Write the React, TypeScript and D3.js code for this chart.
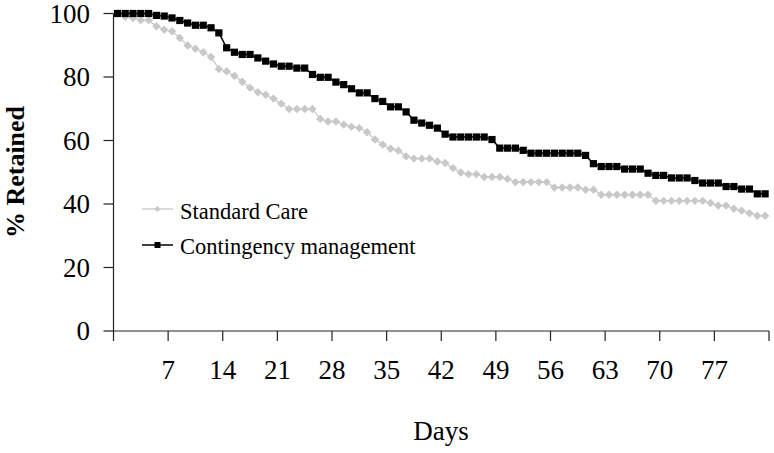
import React from 'react';
import * as d3 from 'd3';

// Day index 1..84 (one point per day)
const standardCare = [
  100, 99, 98.6, 97.9, 97.9, 96, 94.9,
  94.4, 92.3, 89.9, 88.9, 87.8, 86.3, 82.5,
  81.8, 80.4, 78.5, 76.6, 75.2, 74.4, 73.2,
  71.6, 69.9, 69.9, 69.9, 69.9, 66.8, 66.0,
  66.0, 65.0, 64.3, 63.9, 62.6, 60.3, 58.7,
  57.4, 56.8, 55.0, 54.3, 54.3, 54.3, 53.4,
  52.9, 51.3, 49.9, 49.4, 49.4, 48.5, 48.5,
  48.5, 47.9, 46.9, 46.9, 46.9, 46.9, 46.9,
  45.2, 45.2, 45.2, 45.2, 44.5, 44.5, 42.9,
  42.9, 42.9, 42.9, 42.9, 42.9, 42.9, 41.0,
  41.0, 41.0, 41.0, 41.0, 41.0, 41.0, 40.3,
  39.5, 39.5, 38.5, 37.9, 37.1, 36.3, 36.3,
];

const contingency = [
  100, 100, 100, 100, 100, 99.4, 99.2,
  98.6, 97.8, 97.0, 96.3, 96.3, 95.5, 93.9,
  89.2, 87.8, 87.1, 87.1, 86.0, 85.0, 84.1,
  83.4, 83.4, 82.8, 82.8, 80.8, 79.9, 79.9,
  78.4, 77.6, 76.3, 75.0, 75.0, 73.2, 72.3,
  70.6, 70.6, 69.0, 66.4, 65.5, 64.8, 63.9,
  62.0, 61.1, 61.1, 61.1, 61.1, 61.1, 60.3,
  57.6, 57.6, 57.6, 56.9, 56.0, 56.0, 56.0,
  56.0, 56.0, 56.0, 56.0, 55.3, 52.7, 51.8,
  51.8, 51.8, 51.0, 51.0, 51.0, 49.7, 49.0,
  49.0, 48.2, 48.2, 48.2, 47.4, 46.6, 46.6,
  46.6, 45.5, 45.5, 44.7, 44.7, 43.2, 43.2,
];

const xTickValues = [0, 7, 14, 21, 28, 35, 42, 49, 56, 63, 70, 77, 84];
const xTickLabels = ['', '7', '14', '21', '28', '35', '42', '49', '56', '63', '70', '77', ''];
const yTicks = [0, 20, 40, 60, 80, 100];

const seriesNames = ['Standard Care', 'Contingency management'];

const W = 774;
const H = 453;
const FONT = '"Liberation Serif", "Times New Roman", serif';
const GRAY = '#c8c8c8';

export default function App() {
  const x = d3.scaleLinear().domain([0, 84]).range([113.5, 769]);
  const y = d3.scaleLinear().domain([0, 100]).range([331, 13.5]);

  const pts = (arr: number[]) => arr.map((v, i) => [x(i + 1 - 0.5), y(v)] as [number, number]);
  const line = d3.line<[number, number]>().x((d) => d[0]).y((d) => d[1]);

  const scPts = pts(standardCare);
  const cmPts = pts(contingency);

  const diamond = (cx: number, cy: number, r: number) =>
    `M${cx},${cy - r}L${cx + r},${cy}L${cx},${cy + r}L${cx - r},${cy}Z`;

  const axisColor = '#222';

  return (
    <svg
      width={W}
      height={H}
      style={{ position: 'absolute', left: 0, top: 0, display: 'block', background: '#fff' }}
    >
      {/* axes */}
      <line x1={x(0)} x2={x(0)} y1={y(100)} y2={y(0)} stroke={axisColor} strokeWidth={1.2} />
      <line x1={x(0)} x2={x(84)} y1={y(0)} y2={y(0)} stroke={axisColor} strokeWidth={1.2} />
      {yTicks.map((t) => (
        <g key={'y' + t}>
          <line x1={x(0) - 10} x2={x(0)} y1={y(t)} y2={y(t)} stroke={axisColor} strokeWidth={1.2} />
          <text
            x={90}
            y={y(t)}
            dy="0.35em"
            textAnchor="end"
            fontFamily={FONT}
            fontSize={27}
            fill="#000"
          >
            {t}
          </text>
        </g>
      ))}
      {xTickValues.map((t, i) => (
        <g key={'x' + t}>
          <line x1={x(t)} x2={x(t)} y1={y(0)} y2={y(0) + 10} stroke={axisColor} strokeWidth={1.2} />
          <text
            x={x(t)}
            y={379}
            textAnchor="middle"
            fontFamily={FONT}
            fontSize={27}
            fill="#000"
          >
            {xTickLabels[i]}
          </text>
        </g>
      ))}
      <text x={441} y={440} textAnchor="middle" fontFamily={FONT} fontSize={27} fill="#000">
        Days
      </text>
      <text
        transform={`translate(24,172) rotate(-90)`}
        textAnchor="middle"
        fontFamily={FONT}
        fontSize={26}
        fontWeight="bold"
        fill="#000"
      >
        % Retained
      </text>

      {/* Standard care series */}
      <path d={line(scPts) || ''} fill="none" stroke={GRAY} strokeWidth={1.3} />
      {scPts.map((p, i) => (
        <path key={'sc' + i} d={diamond(p[0], p[1], 4.2)} fill={GRAY} />
      ))}

      {/* Contingency management series */}
      <path d={line(cmPts) || ''} fill="none" stroke="#000" strokeWidth={1.5} />
      {cmPts.map((p, i) => (
        <rect key={'cm' + i} x={p[0] - 3.6} y={p[1] - 3.6} width={7.2} height={7.2} fill="#000" />
      ))}

      {/* legend */}
      <line x1={142} x2={173} y1={209} y2={209} stroke={GRAY} strokeWidth={1.3} />
      <path d={diamond(157.5, 209, 3)} fill={GRAY} />
      <text x={180} y={219} fontFamily={FONT} fontSize={22.5} fill="#000">
        {seriesNames[0]}
      </text>
      <line x1={142} x2={173} y1={245} y2={245} stroke="#000" strokeWidth={1.5} />
      <rect x={157.5 - 3} y={245 - 3} width={6} height={6} fill="#000" />
      <text x={180} y={254} fontFamily={FONT} fontSize={22.5} fill="#000">
        {seriesNames[1]}
      </text>
    </svg>
  );
}
